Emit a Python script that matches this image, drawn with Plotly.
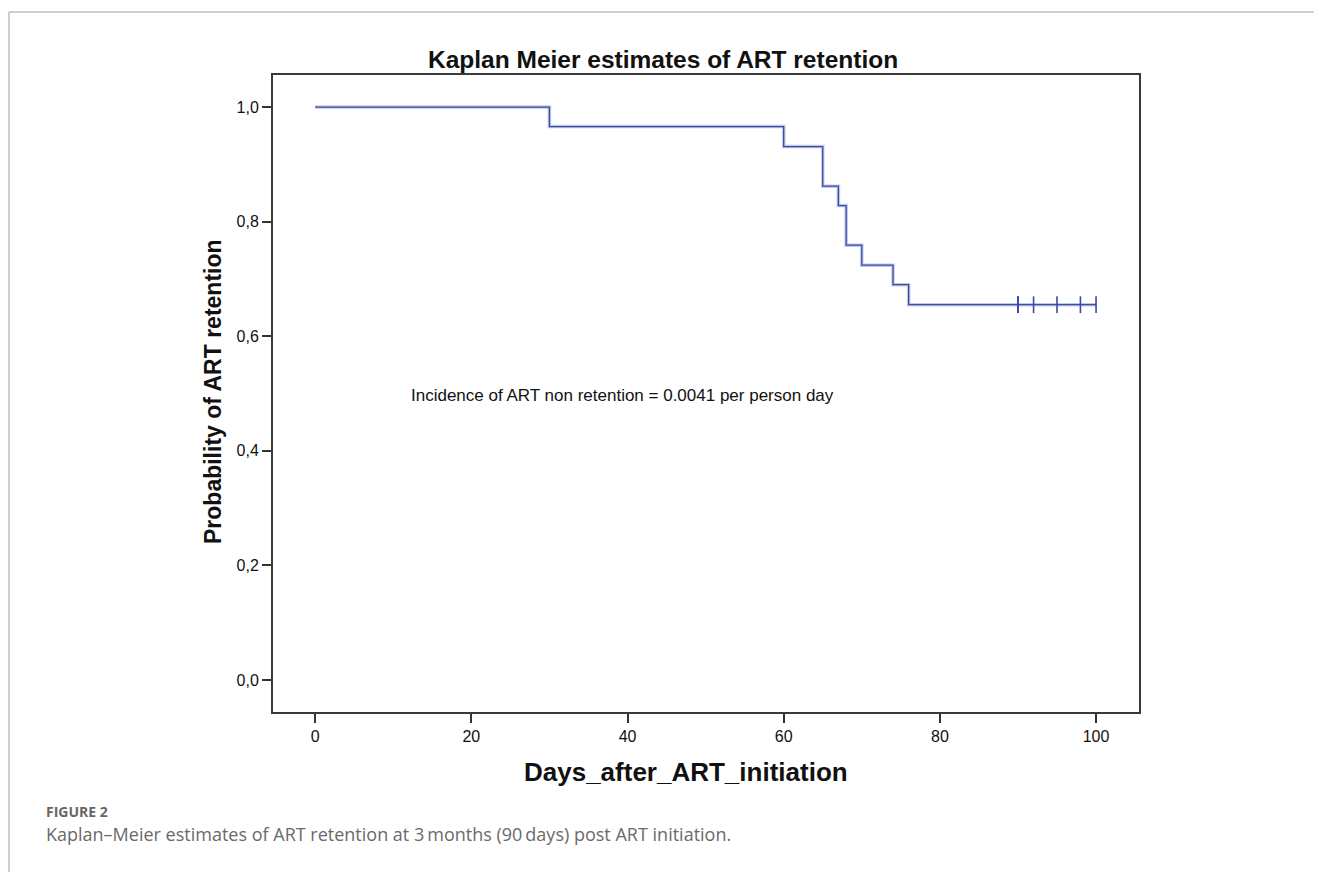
import plotly.graph_objects as go

# Kaplan-Meier step data (days, survival probability)
event_days = [0, 30, 60, 65, 67, 68, 70, 74, 76, 100]
survival = [1.0, 0.966, 0.931, 0.862, 0.828, 0.759, 0.724, 0.690, 0.655, 0.655]

# censored observations
censor_days = [90, 90, 90, 92, 95, 98, 100]
censor_surv = [0.655, 0.655, 0.655, 0.655, 0.655, 0.655, 0.655]

x_ticks = [0, 20, 40, 60, 80, 100]
y_ticks = [0.0, 0.2, 0.4, 0.6, 0.8, 1.0]

# figure geometry (page adds an 8px body margin)
OFF = 8
W, H = 1322 - OFF, 872 - OFF
ML, MR, MT, MB = 265, 183, 67, 160
PW = W - ML - MR
PH = H - MT - MB


def px(xr):
    return (xr - OFF - ML) / PW


def py(yr):
    return (H - MB - (yr - OFF)) / PH


fig = go.Figure()

fig.add_trace(go.Scatter(
    x=event_days, y=survival, mode="lines", line_shape="hv",
    line=dict(color="rgba(120,135,205,0.45)", width=3.5),
    hoverinfo="skip", showlegend=False))
fig.add_trace(go.Scatter(
    x=event_days, y=survival, mode="lines", line_shape="hv",
    line=dict(color="#3a4ba6", width=1.3), showlegend=False))
fig.add_trace(go.Scatter(
    x=censor_days, y=censor_surv, mode="markers",
    marker=dict(symbol="line-ns", size=12,
                line=dict(color="#3a4ba6", width=1.6)),
    showlegend=False))

ARIAL = "Arial, 'Liberation Sans', sans-serif"
axis_font = dict(family=ARIAL, size=16, color="#111")

fig.update_layout(
    width=W, height=H,
    paper_bgcolor="white", plot_bgcolor="white",
    separators=",.",
    margin=dict(l=ML, r=MR, t=MT, b=MB, autoexpand=False),
    xaxis=dict(
        range=[-5.4, 105.5], tickvals=x_ticks, ticks="outside", ticklen=9,
        tickwidth=2, tickcolor="#333", showgrid=False, zeroline=False,
        showline=True, linecolor="#3a3a3a", linewidth=2, mirror=True,
        tickfont=axis_font,
    ),
    yaxis=dict(
        range=[-0.056, 1.056], tickvals=y_ticks, tickformat=".1f", ticks="outside",
        ticklen=9, tickwidth=2, tickcolor="#333", showgrid=False, zeroline=False,
        showline=True, linecolor="#3a3a3a", linewidth=2, mirror=True,
        tickfont=axis_font,
    ),
)

annotations = [
    dict(text="<b>Kaplan Meier estimates of ART retention</b>",
         x=px(663), y=py(60), xanchor="center", yanchor="middle",
         font=dict(family=ARIAL, size=24.5, color="#111")),
    dict(text="<b>Days_after_ART_initiation</b>",
         x=px(686), y=py(772), xanchor="center", yanchor="middle",
         font=dict(family=ARIAL, size=26, color="#111")),
    dict(text="<b>Probability of ART retention</b>", textangle=-90,
         x=px(213), y=py(392), xanchor="center", yanchor="middle",
         font=dict(family=ARIAL, size=23, color="#111")),
    dict(text="Incidence of ART non retention = 0.0041 per person day",
         x=px(409), y=py(395), xanchor="left", yanchor="middle",
         font=dict(family=ARIAL, size=17, color="#111")),
    dict(text="<b>FIGURE 2</b>",
         x=px(44), y=py(811), xanchor="left", yanchor="middle",
         font=dict(family="Open Sans, sans-serif", size=14, color="#666")),
    dict(text="Kaplan\u2013Meier estimates of ART retention at 3\u2009months (90\u2009days) post ART initiation.",
         x=px(44), y=py(834), xanchor="left", yanchor="middle",
         font=dict(family="Open Sans, sans-serif", size=18, color="#6a6a6a")),
]
for a in annotations:
    fig.add_annotation(xref="paper", yref="paper", showarrow=False, **a)

# outer light gray frame (left and top)
fig.add_shape(type="line", xref="paper", yref="paper",
              x0=px(9), x1=px(9), y0=py(880), y1=py(12),
              line=dict(color="#c0c0c0", width=1.5))
fig.add_shape(type="line", xref="paper", yref="paper",
              x0=px(9), x1=px(1330), y0=py(12), y1=py(12),
              line=dict(color="#c0c0c0", width=1.5))

fig.write_html("out.html")
